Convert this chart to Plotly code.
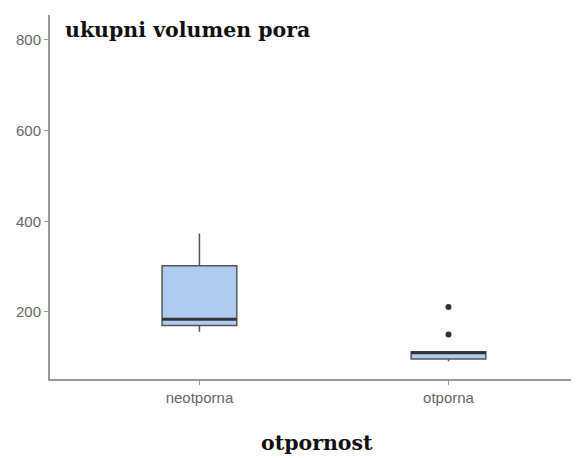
import plotly.graph_objects as go

categories = ["neotporna", "otporna"]
q1 = [170, 96]
median = [184, 110]
q3 = [302, 112]
lower_whisker = [156, 91]
upper_whisker = [373, 112]
outlier_cat = [1, 1]
outlier_vals = [211, 150]
y_ticks = [200, 400, 600, 800]

xpos = list(range(len(categories)))
box_w = 0.30

fig = go.Figure()
fig.add_trace(go.Box(
    x=xpos, q1=q1, median=median, q3=q3,
    lowerfence=lower_whisker, upperfence=upper_whisker,
    width=box_w, whiskerwidth=0,
    fillcolor="#aecbf2", line=dict(color="#555555", width=1.5),
    boxpoints=False, showlegend=False, hoverinfo="skip",
))
for i, m in enumerate(median):
    fig.add_trace(go.Scatter(
        x=[xpos[i] - box_w / 2, xpos[i] + box_w / 2], y=[m, m],
        mode="lines", line=dict(color="#333333", width=3),
        showlegend=False, hoverinfo="skip",
    ))
fig.add_trace(go.Scatter(
    x=outlier_cat, y=outlier_vals, mode="markers",
    marker=dict(color="#333333", size=6),
    showlegend=False, hoverinfo="skip",
))

fig.update_layout(
    width=571, height=450,
    margin=dict(l=42, r=0, t=7, b=79),
    plot_bgcolor="white", paper_bgcolor="white",
    xaxis=dict(
        range=[-0.6, 1.524], tickvals=xpos, ticktext=categories,
        showgrid=False, zeroline=False, showline=True, linecolor="#999999", linewidth=2,
        ticks="outside", ticklen=4, tickcolor="#999999",
        tickfont=dict(family="Liberation Sans, Arial, sans-serif", size=15, color="#666666"),
    ),
    yaxis=dict(
        range=[52, 855], tickvals=y_ticks,
        showgrid=False, zeroline=False, showline=True, linecolor="#999999", linewidth=2,
        ticks="outside", ticklen=4, tickcolor="#999999",
        tickfont=dict(family="Liberation Sans, Arial, sans-serif", size=15, color="#666666"),
    ),
    annotations=[
        dict(text="<b>ukupni volumen pora</b>", xref="paper", yref="paper",
             x=0.024, y=0.959, xanchor="left", yanchor="middle", showarrow=False,
             font=dict(family="DejaVu Serif, serif", size=20.5, color="#111111")),
        dict(text="<b>otpornost</b>", xref="paper", yref="paper",
             x=0.505, y=-0.176, xanchor="center", yanchor="middle", showarrow=False,
             font=dict(family="DejaVu Serif, serif", size=20.5, color="#111111")),
    ],
)

fig.write_html("out.html")
